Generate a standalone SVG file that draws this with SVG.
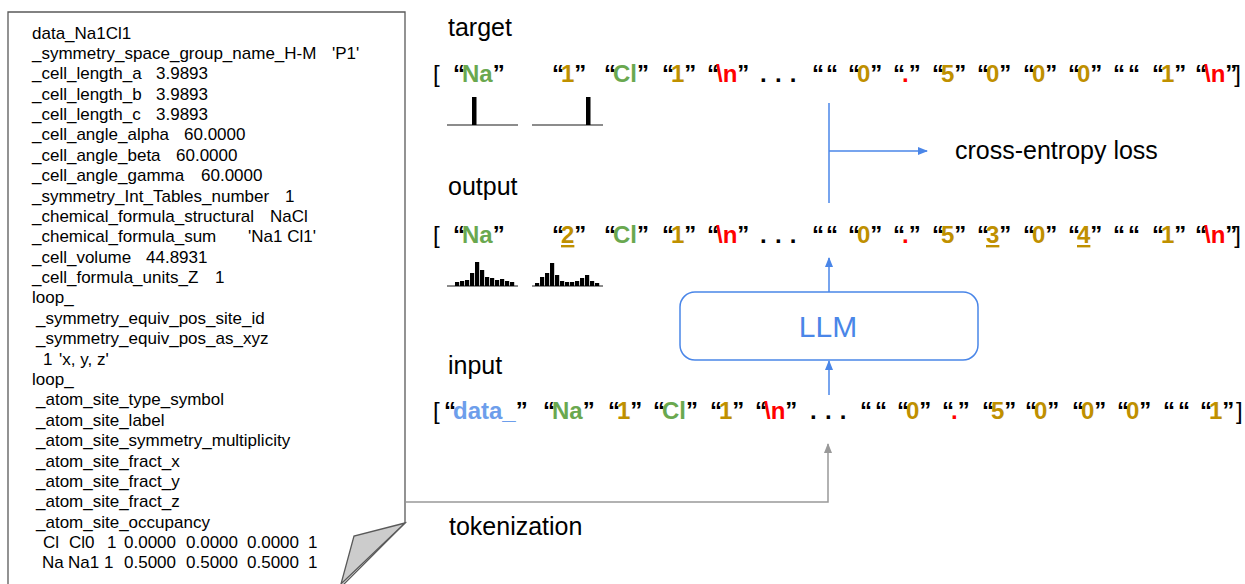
<svg xmlns="http://www.w3.org/2000/svg" width="1245" height="584" viewBox="0 0 1245 584">
<style>
.doc{font-family:"Liberation Sans",Arial,sans-serif;font-size:17px;fill:#000;white-space:pre}
.lbl{font-family:"Liberation Sans",Arial,sans-serif;font-size:25px;fill:#000}
.tk{font-family:"Liberation Sans",Arial,sans-serif;font-size:24px;font-weight:bold;fill:#000}
.q{letter-spacing:-3px}
.br{font-weight:normal}
.g{fill:#6aa84f}.y{fill:#bf9000}.r{fill:#ff0000}.b{fill:#6d9eeb}
.u{text-decoration:underline}
.dots{letter-spacing:0.8px}
.blue{stroke:#4a86e8;stroke-width:1.5;fill:none}
.grey{stroke:#999;stroke-width:1.5;fill:none}
.axis{stroke:#666;stroke-width:1.5}
.bar{fill:#000}
</style>
<defs>
<marker id="ab" markerWidth="10" markerHeight="10" refX="9" refY="5" orient="auto" markerUnits="userSpaceOnUse"><path d="M0,1 L10,5 L0,9 Z" fill="#4a86e8"/></marker>
<marker id="ag" markerWidth="10" markerHeight="10" refX="9" refY="5" orient="auto" markerUnits="userSpaceOnUse"><path d="M0,1 L10,5 L0,9 Z" fill="#999"/></marker>
</defs>
<rect width="1245" height="584" fill="#fff"/>

<g id="cif-document">
<path d="M8,12 H405 V523 L338,590 H8 Z" fill="#fff" stroke="#595959" stroke-width="1.3"/>
<path d="M405,523 L354,536 L341,584 Z" fill="#cccccc" stroke="#595959" stroke-width="1.3"/>
<text class="doc" x="32" y="38.5">data_Na1Cl1</text>
<text class="doc" x="32" y="58.9">_symmetry_space_group_name_H-M<tspan x="332">'P1'</tspan></text>
<text class="doc" x="32" y="79.3">_cell_length_a<tspan x="156">3.9893</tspan></text>
<text class="doc" x="32" y="99.6">_cell_length_b<tspan x="156">3.9893</tspan></text>
<text class="doc" x="32" y="120.0">_cell_length_c<tspan x="156">3.9893</tspan></text>
<text class="doc" x="32" y="140.4">_cell_angle_alpha<tspan x="184">60.0000</tspan></text>
<text class="doc" x="32" y="160.8">_cell_angle_beta<tspan x="176">60.0000</tspan></text>
<text class="doc" x="32" y="181.2">_cell_angle_gamma<tspan x="201">60.0000</tspan></text>
<text class="doc" x="32" y="201.5">_symmetry_Int_Tables_number<tspan x="285">1</tspan></text>
<text class="doc" x="32" y="221.9">_chemical_formula_structural<tspan x="270">NaCl</tspan></text>
<text class="doc" x="32" y="242.3">_chemical_formula_sum<tspan x="248">'Na1 Cl1'</tspan></text>
<text class="doc" x="32" y="262.7">_cell_volume<tspan x="146">44.8931</tspan></text>
<text class="doc" x="32" y="283.1">_cell_formula_units_Z<tspan x="215">1</tspan></text>
<text class="doc" x="32" y="303.4">loop_</text>
<text class="doc" x="36" y="323.8">_symmetry_equiv_pos_site_id</text>
<text class="doc" x="36" y="344.2">_symmetry_equiv_pos_as_xyz</text>
<text class="doc" x="43" y="364.6">1<tspan x="59">'x, y, z'</tspan></text>
<text class="doc" x="32" y="385.0">loop_</text>
<text class="doc" x="36" y="405.3">_atom_site_type_symbol</text>
<text class="doc" x="36" y="425.7">_atom_site_label</text>
<text class="doc" x="36" y="446.1">_atom_site_symmetry_multiplicity</text>
<text class="doc" x="36" y="466.5">_atom_site_fract_x</text>
<text class="doc" x="36" y="486.9">_atom_site_fract_y</text>
<text class="doc" x="36" y="507.2">_atom_site_fract_z</text>
<text class="doc" x="36" y="527.6">_atom_site_occupancy</text>
<text class="doc" x="43" y="548.0">Cl<tspan x="69">Cl0</tspan><tspan x="107">1</tspan><tspan x="124">0.0000</tspan><tspan x="186">0.0000</tspan><tspan x="247">0.0000</tspan><tspan x="308">1</tspan></text>
<text class="doc" x="42" y="568.4">Na<tspan x="68">Na1</tspan><tspan x="104">1</tspan><tspan x="124">0.5000</tspan><tspan x="186">0.5000</tspan><tspan x="247">0.5000</tspan><tspan x="308">1</tspan></text>
</g>

<g id="labels">
<text class="lbl" x="448" y="36">target</text>
<text class="lbl" x="448" y="195">output</text>
<text class="lbl" x="448" y="374">input</text>
<text class="lbl" x="449" y="535">tokenization</text>
<text class="lbl" x="955" y="159">cross-entropy loss</text>
</g>

<g id="target-row">
<text class="tk" y="82"><tspan x="433" class="br">[</tspan><tspan x="453" class="q">“</tspan><tspan class="g">Na</tspan><tspan class="q">”</tspan><tspan x="552" class="q">“</tspan><tspan class="y">1</tspan><tspan class="q">”</tspan><tspan x="604" class="q">“</tspan><tspan class="g">Cl</tspan><tspan class="q">”</tspan><tspan x="662" class="q">“</tspan><tspan class="y">1</tspan><tspan class="q">”</tspan><tspan x="707" class="q">“</tspan><tspan class="r">\n</tspan><tspan class="q">”</tspan><tspan x="760" class="dots">. . .</tspan><tspan x="812" class="q">“</tspan><tspan x="826" class="q">“</tspan><tspan x="848" class="q">“</tspan><tspan class="y">0</tspan><tspan class="q">”</tspan><tspan x="893" class="q">“</tspan><tspan class="r">.</tspan><tspan class="q">”</tspan><tspan x="932" class="q">“</tspan><tspan class="y">5</tspan><tspan class="q">”</tspan><tspan x="977" class="q">“</tspan><tspan class="y">0</tspan><tspan class="q">”</tspan><tspan x="1023" class="q">“</tspan><tspan class="y">0</tspan><tspan class="q">”</tspan><tspan x="1068" class="q">“</tspan><tspan class="y">0</tspan><tspan class="q">”</tspan><tspan x="1113" class="q">“</tspan><tspan x="1128" class="q">“</tspan><tspan x="1152" class="q">“</tspan><tspan class="y">1</tspan><tspan class="q">”</tspan><tspan x="1195" class="q">“</tspan><tspan class="r">\n</tspan><tspan class="q">”</tspan><tspan class="br">]</tspan></text>
</g>

<g id="target-distributions">
<line class="axis" x1="447" y1="125" x2="518" y2="125"/>
<rect class="bar" x="472" y="97" width="4.5" height="28"/>
<line class="axis" x1="532" y1="125" x2="603" y2="125"/>
<rect class="bar" x="586" y="97" width="4.5" height="28"/>
</g>

<g id="cross-entropy">
<line class="blue" x1="829" y1="103" x2="829" y2="203"/>
<line class="blue" x1="829" y1="151" x2="927" y2="151" marker-end="url(#ab)"/>
</g>

<g id="output-row">
<text class="tk" y="243"><tspan x="433" class="br">[</tspan><tspan x="453" class="q">“</tspan><tspan class="g">Na</tspan><tspan class="q">”</tspan><tspan x="552" class="q">“</tspan><tspan class="y u">2</tspan><tspan class="q">”</tspan><tspan x="604" class="q">“</tspan><tspan class="g">Cl</tspan><tspan class="q">”</tspan><tspan x="662" class="q">“</tspan><tspan class="y">1</tspan><tspan class="q">”</tspan><tspan x="707" class="q">“</tspan><tspan class="r">\n</tspan><tspan class="q">”</tspan><tspan x="760" class="dots">. . .</tspan><tspan x="812" class="q">“</tspan><tspan x="826" class="q">“</tspan><tspan x="848" class="q">“</tspan><tspan class="y">0</tspan><tspan class="q">”</tspan><tspan x="893" class="q">“</tspan><tspan class="r">.</tspan><tspan class="q">”</tspan><tspan x="932" class="q">“</tspan><tspan class="y">5</tspan><tspan class="q">”</tspan><tspan x="977" class="q">“</tspan><tspan class="y u">3</tspan><tspan class="q">”</tspan><tspan x="1023" class="q">“</tspan><tspan class="y">0</tspan><tspan class="q">”</tspan><tspan x="1068" class="q">“</tspan><tspan class="y u">4</tspan><tspan class="q">”</tspan><tspan x="1113" class="q">“</tspan><tspan x="1128" class="q">“</tspan><tspan x="1152" class="q">“</tspan><tspan class="y">1</tspan><tspan class="q">”</tspan><tspan x="1195" class="q">“</tspan><tspan class="r">\n</tspan><tspan class="q">”</tspan><tspan class="br">]</tspan></text>
</g>

<g id="output-distributions">
<line class="axis" x1="447" y1="286" x2="518" y2="286"/>
<g class="bar">
<rect x="455" y="282" width="4.2" height="4"/>
<rect x="460" y="281" width="4.2" height="5"/>
<rect x="465" y="280" width="4.2" height="6"/>
<rect x="470" y="273" width="4.2" height="13"/>
<rect x="475" y="262" width="4.2" height="24"/>
<rect x="480" y="270" width="4.2" height="16"/>
<rect x="485" y="277" width="4.2" height="9"/>
<rect x="490" y="278" width="4.2" height="8"/>
<rect x="495" y="280" width="4.2" height="6"/>
<rect x="500" y="279" width="4.2" height="7"/>
<rect x="505" y="281" width="4.2" height="5"/>
<rect x="510" y="282" width="4.2" height="4"/>
</g>
<line class="axis" x1="532" y1="286" x2="603" y2="286"/>
<g class="bar">
<rect x="535" y="283" width="4.2" height="3"/>
<rect x="540" y="277" width="4.2" height="9"/>
<rect x="545" y="273" width="4.2" height="13"/>
<rect x="550" y="263" width="4.2" height="23"/>
<rect x="555" y="275" width="4.2" height="11"/>
<rect x="560" y="281" width="4.2" height="5"/>
<rect x="565" y="282" width="4.2" height="4"/>
<rect x="570" y="282" width="4.2" height="4"/>
<rect x="575" y="281" width="4.2" height="5"/>
<rect x="580" y="278" width="4.2" height="8"/>
<rect x="585" y="275" width="4.2" height="11"/>
<rect x="590" y="281" width="4.2" height="5"/>
<rect x="595" y="283" width="4.2" height="3"/>
</g>
</g>

<g id="llm">
<rect x="680" y="292" width="298" height="68" rx="15" ry="15" fill="#fff" stroke="#4a86e8" stroke-width="1.5"/>
<text x="828" y="337" text-anchor="middle" font-family="Liberation Sans, Arial, sans-serif" font-size="30" fill="#4a86e8">LLM</text>
</g>

<g id="input-row">
<text class="tk" y="419"><tspan x="433" class="br">[</tspan><tspan x="444" class="q">“</tspan><tspan class="b">data_</tspan><tspan class="q">”</tspan><tspan x="543" class="q">“</tspan><tspan class="g">Na</tspan><tspan class="q">”</tspan><tspan x="608" class="q">“</tspan><tspan class="y">1</tspan><tspan class="q">”</tspan><tspan x="653" class="q">“</tspan><tspan class="g">Cl</tspan><tspan class="q">”</tspan><tspan x="710" class="q">“</tspan><tspan class="y">1</tspan><tspan class="q">”</tspan><tspan x="755" class="q">“</tspan><tspan class="r">\n</tspan><tspan class="q">”</tspan><tspan x="810" class="dots">. . .</tspan><tspan x="860" class="q">“</tspan><tspan x="875" class="q">“</tspan><tspan x="897" class="q">“</tspan><tspan class="y">0</tspan><tspan class="q">”</tspan><tspan x="942" class="q">“</tspan><tspan class="r">.</tspan><tspan class="q">”</tspan><tspan x="982" class="q">“</tspan><tspan class="y">5</tspan><tspan class="q">”</tspan><tspan x="1025" class="q">“</tspan><tspan class="y">0</tspan><tspan class="q">”</tspan><tspan x="1072" class="q">“</tspan><tspan class="y">0</tspan><tspan class="q">”</tspan><tspan x="1117" class="q">“</tspan><tspan class="y">0</tspan><tspan class="q">”</tspan><tspan x="1163" class="q">“</tspan><tspan x="1178" class="q">“</tspan><tspan x="1200" class="q">“</tspan><tspan class="y">1</tspan><tspan class="q">”</tspan><tspan x="1236" class="br">]</tspan></text>
</g>

<g id="connectors">
<line class="blue" x1="829" y1="292" x2="829" y2="258" marker-end="url(#ab)"/>
<line class="blue" x1="829" y1="395" x2="829" y2="361" marker-end="url(#ab)"/>
<polyline class="grey" points="406,502 828,502 828,444" marker-end="url(#ag)"/>
</g>
</svg>
